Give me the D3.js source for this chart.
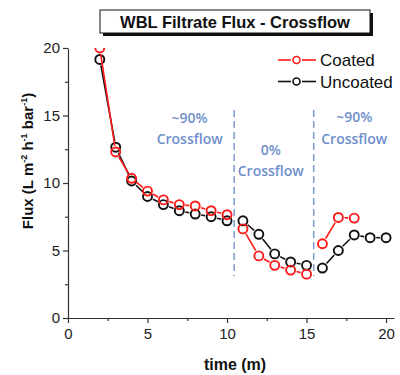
<!DOCTYPE html>
<html>
<head>
<meta charset="utf-8">
<script src="https://cdn.jsdelivr.net/npm/d3@7"></script>
<style>
  body { margin: 0; background: #fff; }
  svg { display: block; font-family: "Liberation Sans", Arial, sans-serif; }
</style>
</head>
<body>
<svg id="chart" width="400" height="375"></svg>
<script>
// values
var timeCoated = [2, 3, 4, 5, 6, 7, 8, 9, 10, 11, 12, 13, 14, 15, 16, 17, 18];
var fluxCoated = [20, 12.3, 10.35, 9.4, 8.75, 8.4, 8.3, 7.95, 7.65, 6.6, 4.6, 3.9, 3.55, 3.25, 5.5, 7.45, 7.4];
var timeUncoated = [2, 3, 4, 5, 6, 7, 8, 9, 10, 11, 12, 13, 14, 15, 16, 17, 18, 19, 20];
var fluxUncoated = [19.15, 12.65, 10.15, 9.0, 8.4, 7.95, 7.7, 7.5, 7.2, 7.2, 6.2, 4.75, 4.15, 3.9, 3.7, 5.0, 6.15, 5.95, 5.95];
var phaseBreaks = [10.45, 15.45];
var phaseLabels = [["~90%", "Crossflow"], ["0%", "Crossflow"], ["~90%", "Crossflow"]];
var phaseLabelX = [7.65, 12.75, 18.0];
var xTicks = [0, 5, 10, 15, 20];
var yTicks = [0, 5, 10, 15, 20];

var font = "Liberation Sans, Arial, sans-serif";
var svg = d3.select("#chart");

var x = d3.scaleLinear().domain([0, 20.5]).range([68, 394]);
var y = d3.scaleLinear().domain([0, 20]).range([318, 48]);

// axes
var axisColor = "#333";
var xAxis = svg.append("g").attr("transform", "translate(0," + y(0) + ")")
  .call(d3.axisBottom(x).tickValues(xTicks).tickSize(5).tickPadding(3).tickSizeOuter(0));
var xMinor = svg.append("g").attr("transform", "translate(0," + y(0) + ")")
  .call(d3.axisBottom(x).tickValues([2.5, 7.5, 12.5, 17.5]).tickSize(3).tickFormat("").tickSizeOuter(0));
xMinor.select(".domain").remove();

var yAxis = svg.append("g").attr("transform", "translate(" + x(0) + ",0)")
  .call(d3.axisLeft(y).tickValues(yTicks).tickSize(5).tickPadding(3).tickSizeOuter(0));
var yMinor = svg.append("g").attr("transform", "translate(" + x(0) + ",0)")
  .call(d3.axisLeft(y).tickValues([2.5, 7.5, 12.5, 17.5]).tickSize(3).tickFormat("").tickSizeOuter(0));
yMinor.select(".domain").remove();

svg.selectAll(".domain, .tick line").attr("stroke", axisColor).attr("stroke-width", 1.2);
svg.selectAll(".tick text").attr("font-size", 15).attr("fill", "#222").attr("font-family", font);
xAxis.selectAll(".tick text").attr("dy", "0.85em");

// phase divider lines
svg.selectAll(".divider").data(phaseBreaks).enter().append("line")
  .attr("x1", function(d) { return x(d); })
  .attr("x2", function(d) { return x(d); })
  .attr("y1", 110).attr("y2", 276)
  .attr("stroke", "#7b9bd4").attr("stroke-width", 1.5)
  .attr("stroke-dasharray", "7,4");

// phase labels
var labY = [[118, 139], [150, 171], [117, 139]];
phaseLabels.forEach(function(lines, i) {
  var t = svg.append("text")
    .attr("text-anchor", "middle")
    .attr("font-family", "Open Sans, sans-serif")
    .attr("font-weight", 600)
    .attr("font-size", 14)
    .attr("fill", "#6f8fcc");
  lines.forEach(function(s, j) {
    t.append("tspan").attr("x", x(phaseLabelX[i])).attr("y", labY[i][j] + 5).text(s);
  });
});

// series
var clip = svg.append("clipPath").attr("id", "plotclip")
  .append("rect").attr("x", x(0)).attr("y", y(20)).attr("width", 340).attr("height", y(0) - y(20));

var r = 4.5;
function phaseOf(t) {
  return phaseBreaks.filter(function(b) { return t > b; }).length;
}
function drawSeries(ts, vs, color) {
  var g = svg.append("g").attr("clip-path", "url(#plotclip)");
  var pts = ts.map(function(t, i) { return {t: t, v: vs[i], px: x(t), py: y(vs[i])}; });
  var segs = [];
  for (var i = 1; i < pts.length; i++) {
    if (phaseOf(pts[i - 1].t) !== phaseOf(pts[i].t)) continue;
    var a = pts[i - 1], b = pts[i];
    var dx = b.px - a.px, dy = b.py - a.py, len = Math.sqrt(dx * dx + dy * dy);
    var gap = r + 1.6;
    if (len <= 2 * gap) continue;
    segs.push({
      x1: a.px + dx / len * gap, y1: a.py + dy / len * gap,
      x2: b.px - dx / len * gap, y2: b.py - dy / len * gap
    });
  }
  g.selectAll("line").data(segs).enter().append("line")
    .attr("x1", function(d) { return d.x1; }).attr("y1", function(d) { return d.y1; })
    .attr("x2", function(d) { return d.x2; }).attr("y2", function(d) { return d.y2; })
    .attr("stroke", color).attr("stroke-width", 1.6);
  g.selectAll("circle").data(pts).enter().append("circle")
    .attr("cx", function(d) { return d.px; })
    .attr("cy", function(d) { return d.py; })
    .attr("r", r)
    .attr("fill", "none").attr("stroke", color).attr("stroke-width", 1.9);
}
drawSeries(timeUncoated, fluxUncoated, "#111");
drawSeries(timeCoated, fluxCoated, "#ff1a1a");

// legend
var legend = [{name: "Coated", color: "#ff1a1a"}, {name: "Uncoated", color: "#111"}];
legend.forEach(function(d, i) {
  var ly = 60 + i * 21.5;
  svg.append("line").attr("x1", 278).attr("x2", 291).attr("y1", ly).attr("y2", ly)
    .attr("stroke", d.color).attr("stroke-width", 1.6);
  svg.append("line").attr("x1", 302).attr("x2", 316).attr("y1", ly).attr("y2", ly)
    .attr("stroke", d.color).attr("stroke-width", 1.6);
  svg.append("circle").attr("cx", 296.5).attr("cy", ly).attr("r", 3.5)
    .attr("fill", "none").attr("stroke", d.color).attr("stroke-width", 1.6);
  svg.append("text").attr("x", 320).attr("y", ly + 6)
    .attr("font-family", font).attr("font-size", 17).attr("fill", "#111").text(d.name);
});

// title box
svg.append("rect").attr("x", 103).attr("y", 13).attr("width", 270).attr("height", 23).attr("fill", "#111");
svg.append("rect").attr("x", 100).attr("y", 10).attr("width", 270).attr("height", 23)
  .attr("fill", "#fff").attr("stroke", "#111").attr("stroke-width", 1);
svg.append("text").attr("x", 235).attr("y", 27.5).attr("text-anchor", "middle")
  .attr("font-family", font).attr("font-weight", "bold").attr("font-size", 16.5).attr("fill", "#111")
  .text("WBL Filtrate Flux - Crossflow");

// axis titles
svg.append("text").attr("x", 235).attr("y", 370).attr("text-anchor", "middle")
  .attr("font-family", font).attr("font-weight", "bold").attr("font-size", 16).attr("fill", "#111")
  .text("time (m)");

var yl = svg.append("text")
  .attr("transform", "translate(33,161) rotate(-90)")
  .attr("text-anchor", "middle")
  .attr("font-family", font).attr("font-weight", "bold").attr("font-size", 15).attr("fill", "#111");
yl.append("tspan").text("Flux (L m");
yl.append("tspan").attr("font-size", 9).attr("dy", -6).text("-2");
yl.append("tspan").attr("dy", 6).text(" h");
yl.append("tspan").attr("font-size", 9).attr("dy", -6).text("-1");
yl.append("tspan").attr("dy", 6).text(" bar");
yl.append("tspan").attr("font-size", 9).attr("dy", -6).text("-1");
yl.append("tspan").attr("dy", 6).text(")");
</script>
</body>
</html>
